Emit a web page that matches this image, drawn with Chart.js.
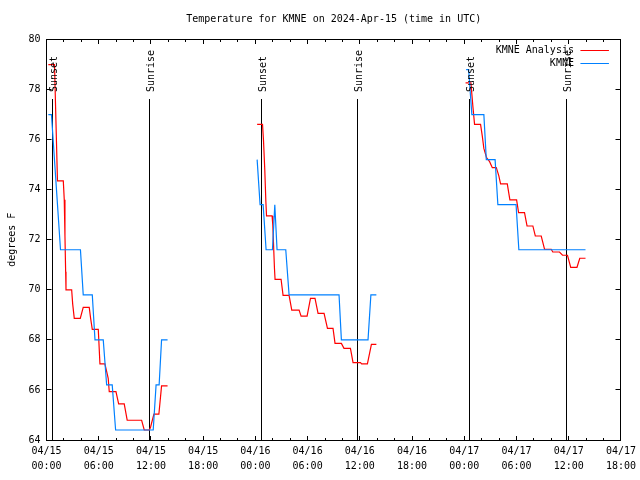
<!DOCTYPE html>
<html>
<head>
<meta charset="utf-8">
<title>Temperature for KMNE</title>
<script src="https://cdn.jsdelivr.net/npm/chart.js@4"></script>
<style>
  html, body { margin: 0; padding: 0; background: #fff; }
  canvas { display: block; }
</style>
</head>
<body>
<canvas id="tempChart" width="640" height="480"></canvas>
<script>
// hours since 04/15 00:00 UTC
const xTickHours = [0, 6, 12, 18, 24, 30, 36, 42, 48, 54, 60, 66];
const xTickLabels = [
    ['04/15', '00:00'], ['04/15', '06:00'], ['04/15', '12:00'], ['04/15', '18:00'],
    ['04/16', '00:00'], ['04/16', '06:00'], ['04/16', '12:00'], ['04/16', '18:00'],
    ['04/17', '00:00'], ['04/17', '06:00'], ['04/17', '12:00'], ['04/17', '18:00']
];
const minorTickStep = 2;

// KMNE Analysis (red)
const analysisHours1 = [0.21, 0.92, 1.26, 1.93, 2.04, 2.12, 2.20, 2.24, 2.89, 3.01, 3.19, 3.88, 4.22, 4.91, 5.07, 5.26, 5.95, 6.14, 6.71, 7.09, 7.21, 7.98, 8.29, 8.93, 9.27, 10.93, 11.23, 11.82, 11.96, 12.34, 12.91, 13.22, 13.91];
const analysisTemps1 = [79.0, 79.0, 74.35, 74.35, 73.6, 72.16, 70.72, 70.0, 70.0, 69.43, 68.86, 68.86, 69.3, 69.3, 68.86, 68.42, 68.42, 67.04, 67.04, 66.46, 65.93, 65.93, 65.44, 65.44, 64.79, 64.79, 64.4, 64.4, 64.52, 65.03, 65.03, 66.16, 66.16];
const analysisHours2 = [24.20, 24.82, 24.93, 25.08, 25.20, 25.28, 25.92, 26.0, 26.19, 26.26, 26.95, 27.18, 27.87, 28.18, 29.02, 29.25, 29.94, 30.33, 30.85, 31.20, 31.89, 32.28, 32.92, 33.15, 33.88, 34.18, 34.92, 35.22, 36.07, 36.21, 36.87, 37.33, 37.90];
const analysisTemps2 = [76.61, 76.61, 75.98, 74.79, 73.55, 72.95, 72.95, 72.59, 70.86, 70.42, 70.42, 69.78, 69.78, 69.19, 69.19, 68.95, 68.95, 69.66, 69.66, 69.06, 69.06, 68.46, 68.46, 67.86, 67.86, 67.66, 67.66, 67.09, 67.09, 67.04, 67.04, 67.82, 67.82];
const analysisHours3 = [48.15, 48.76, 48.99, 49.18, 49.87, 50.07, 50.25, 50.56, 50.91, 51.22, 51.68, 51.97, 52.17, 52.94, 53.24, 54.01, 54.24, 54.92, 55.21, 55.88, 56.16, 56.84, 57.22, 57.99, 58.17, 58.94, 59.29, 59.86, 60.23, 60.95, 61.27, 61.93];
const analysisTemps3 = [78.27, 78.27, 77.32, 76.61, 76.61, 76.14, 75.65, 75.28, 75.12, 74.88, 74.88, 74.55, 74.23, 74.23, 73.59, 73.59, 73.08, 73.08, 72.55, 72.55, 72.15, 72.15, 71.62, 71.62, 71.51, 71.51, 71.38, 71.38, 70.9, 70.9, 71.26, 71.26];

// KMNE observations (blue)
const obsHours1 = [0.21, 0.57, 1.61, 3.90, 4.22, 5.26, 5.57, 6.52, 6.91, 7.55, 7.94, 12.26, 12.59, 12.94, 13.22, 13.91];
const obsTemps1 = [77.0, 77.0, 71.6, 71.6, 69.8, 69.8, 68.0, 68.0, 66.2, 66.2, 64.4, 64.4, 66.2, 66.2, 68.0, 68.0];
const obsHours2 = [24.20, 24.54, 24.89, 25.23, 25.96, 26.23, 26.49, 27.49, 27.87, 33.61, 33.88, 36.94, 37.27, 37.90];
const obsTemps2 = [75.2, 73.4, 73.4, 71.6, 71.6, 73.4, 71.6, 71.6, 69.8, 69.8, 68.0, 68.0, 69.8, 69.8];
const obsHours3 = [48.21, 48.50, 48.87, 50.25, 50.53, 51.54, 51.86, 53.95, 54.27, 61.93];
const obsTemps3 = [78.8, 78.8, 77.0, 77.0, 75.2, 75.2, 73.4, 73.4, 71.6, 71.6];

// sunset / sunrise markers
const sunHours = [0.67, 11.80, 24.66, 35.68, 48.65, 59.71];
const sunLabels = ['Sunset', 'Sunrise', 'Sunset', 'Sunrise', 'Sunset', 'Sunrise'];
const sunLineTop = 77.62;

const FONT = '"DejaVu Sans Mono", "Liberation Mono", monospace';

function toPoints(parts) {
    const pts = [];
    parts.forEach(([hours, temps], i) => {
        if (i > 0) pts.push({ x: hours[0] - 0.01, y: null });
        hours.forEach((h, j) => pts.push({ x: h, y: temps[j] }));
    });
    return pts;
}

const crisp = v => Math.floor(v) + 0.5;

const framePlugin = {
    id: 'gnuplotFrame',
    beforeDatasetsDraw(chart) {
        const ctx = chart.ctx;
        const xs = chart.scales.x, ys = chart.scales.y;
        const { left, right, top, bottom } = chart.chartArea;
        const L = crisp(left), R = crisp(right), T = crisp(top), B = crisp(bottom);
        ctx.save();
        ctx.strokeStyle = '#000';
        ctx.lineWidth = 1;
        ctx.strokeRect(L, T, R - L, B - T);

        ctx.beginPath();
        // x ticks, major and minor, bottom and top, pointing inward
        for (let h = xs.min; h <= xs.max; h += minorTickStep) {
            const px = crisp(xs.getPixelForValue(h));
            const len = xTickHours.includes(h) ? 4.5 : 2.5;
            ctx.moveTo(px, B); ctx.lineTo(px, B - len);
            ctx.moveTo(px, T); ctx.lineTo(px, T + len);
        }
        // y ticks on left and right
        ys.ticks.forEach(t => {
            const py = crisp(ys.getPixelForValue(t.value));
            ctx.moveTo(L, py); ctx.lineTo(L + 5, py);
            ctx.moveTo(R, py); ctx.lineTo(R - 5, py);
        });
        // sun lines
        sunHours.forEach(h => {
            const px = crisp(xs.getPixelForValue(h));
            ctx.moveTo(px, B);
            ctx.lineTo(px, Math.round(ys.getPixelForValue(sunLineTop)));
        });
        ctx.stroke();
        ctx.restore();
    },
    afterDraw(chart) {
        const ctx = chart.ctx;
        const xs = chart.scales.x, ys = chart.scales.y;
        const { left, right, top } = chart.chartArea;
        ctx.save();
        ctx.fillStyle = '#000';
        ctx.font = '10px ' + FONT;

        // title
        ctx.textAlign = 'center';
        ctx.textBaseline = 'middle';
        ctx.fillText('Temperature for KMNE on 2024-Apr-15 (time in UTC)', (left + right) / 2, 19);

        // sun labels, rotated
        const labelBottom = Math.round(ys.getPixelForValue(sunLineTop)) - 7;
        sunLabels.forEach((txt, i) => {
            const px = crisp(xs.getPixelForValue(sunHours[i]));
            ctx.save();
            ctx.translate(px + 4.5, labelBottom);
            ctx.rotate(-Math.PI / 2);
            ctx.textAlign = 'left';
            ctx.textBaseline = 'alphabetic';
            ctx.fillText(txt, 0, 0);
            ctx.restore();
        });

        // legend
        const rows = [
            { text: 'KMNE Analysis', color: '#ff0000' },
            { text: 'KMNE', color: '#0080ff' }
        ];
        ctx.textAlign = 'right';
        ctx.textBaseline = 'middle';
        rows.forEach((r, i) => {
            const y = top + 10.5 + i * 13;
            ctx.fillStyle = '#000';
            ctx.fillText(r.text, right - 47, y);
            ctx.strokeStyle = r.color;
            ctx.lineWidth = 1;
            ctx.beginPath();
            ctx.moveTo(right - 40.5, crisp(y));
            ctx.lineTo(right - 12, crisp(y));
            ctx.stroke();
        });
        ctx.restore();
    }
};

const ctx = document.getElementById('tempChart').getContext('2d');
const tempChart = new Chart(ctx, {
    type: 'line',
    data: {
        datasets: [{
            label: 'KMNE Analysis',
            data: toPoints([[analysisHours1, analysisTemps1], [analysisHours2, analysisTemps2], [analysisHours3, analysisTemps3]]),
            borderColor: '#ff0000',
            borderWidth: 1.2,
            pointRadius: 0,
            tension: 0,
            spanGaps: false,
            order: 2
        }, {
            label: 'KMNE',
            data: toPoints([[obsHours1, obsTemps1], [obsHours2, obsTemps2], [obsHours3, obsTemps3]]),
            borderColor: '#0080ff',
            borderWidth: 1.2,
            pointRadius: 0,
            tension: 0,
            spanGaps: false,
            order: 1
        }]
    },
    options: {
        responsive: false,
        animation: false,
        devicePixelRatio: 1,
        layout: {
            padding: { top: 39.5, right: 18.5, bottom: 0, left: 0 }
        },
        scales: {
            x: {
                type: 'linear',
                min: 0,
                max: 66,
                grid: { display: false, drawTicks: false },
                border: { display: false },
                ticks: {
                    stepSize: 6,
                    autoSkip: false,
                    maxRotation: 0,
                    padding: 4,
                    color: '#000',
                    font: { family: FONT, size: 10, lineHeight: 1.5 },
                    callback: v => xTickLabels[xTickHours.indexOf(v)]
                },
                afterFit: s => { s.height = 40; }
            },
            y: {
                min: 64,
                max: 80,
                grid: { display: false, drawTicks: false },
                border: { display: false },
                ticks: {
                    stepSize: 2,
                    padding: 6,
                    color: '#000',
                    font: { family: FONT, size: 10 }
                },
                title: {
                    display: true,
                    text: 'degrees F',
                    color: '#000',
                    font: { family: FONT, size: 10, lineHeight: 1.2 },
                    padding: { top: 6, bottom: 0 }
                },
                afterFit: s => { s.width = 46.5; }
            }
        },
        plugins: {
            legend: { display: false },
            tooltip: { enabled: false }
        }
    },
    plugins: [framePlugin]
});
</script>
</body>
</html>
